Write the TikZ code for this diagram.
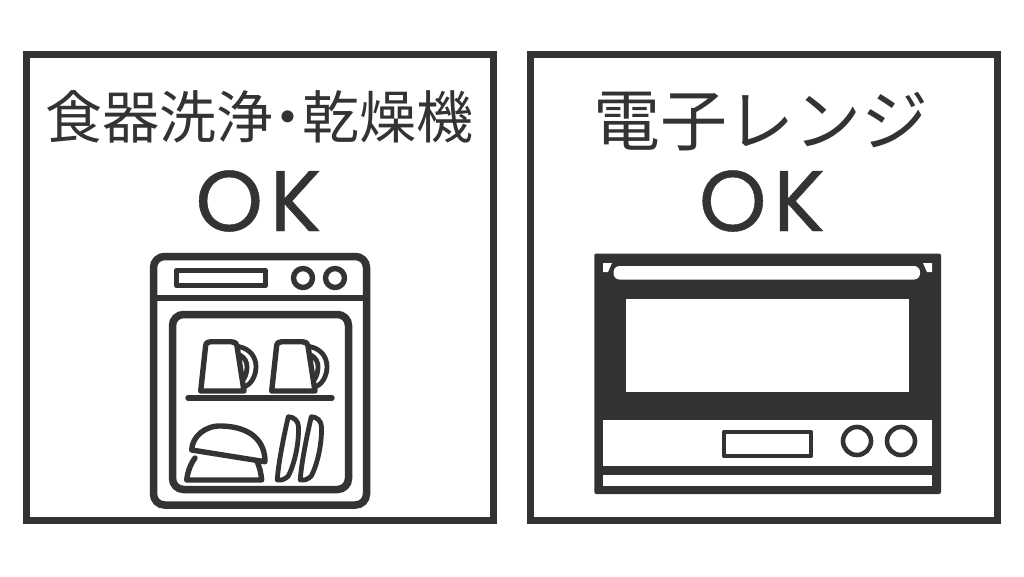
\documentclass[tikz,border=0pt]{standalone}
\usepackage{fontspec}
\newfontfamily\jpfont{Noto Sans CJK JP}
\newfontfamily\okfont[FakeBold=0.5]{Poppins}
\definecolor{ink}{HTML}{333333}
\tikzset{
  frame/.style={draw=ink,line width=7pt,fill=white},
  thick7/.style={draw=ink,line width=7.5pt,rounded corners=11pt},
  line5/.style={draw=ink,line width=5.4pt,line join=round,line cap=round},
  thin4/.style={draw=ink,line width=4.2pt,line join=round},
  hole/.style={fill=white,draw=none},
  title/.style={text=ink,inner sep=0pt,anchor=center},
  oklabel/.style={text=ink,inner sep=0pt,anchor=center,font=\okfont\fontsize{86}{86}\selectfont}
}
\begin{document}
\begin{tikzpicture}[x=1pt,y=-1pt]
\useasboundingbox (0,0) rectangle (1024,576);
\fill[white] (0,0) rectangle (1024,576);
% frames
\draw[frame] (26.5,54.5) rectangle (493.5,520.5);
\draw[frame] (530.5,54.5) rectangle (997.5,520.5);
% labels
\node[title] (t1) at (259,117) {\jpfont\fontsize{57}{57}\selectfont 食器洗浄\kern-14pt・\kern-14pt乾燥機};
\node[oklabel] (ok1) at (258.5,201) {O\kern7ptK};
\node[title] (t2) at (761,122) {\jpfont\fontsize{67}{67}\selectfont 電子レンジ};
\node[oklabel] (ok2) at (762,201) {O\kern7ptK};
% dishwasher
\draw[thick7] (153.5,256.5) rectangle (366.5,505);
\draw[draw=ink,line width=6.5pt] (153.5,298) -- (366.5,298);
\draw[line5,line cap=butt] (176.5,270.5) rectangle (265.5,285.5);
\draw[line5] (303,278) circle (9.5);
\draw[line5] (335,278) circle (9.5);
\draw[thick7] (172.5,314.5) rectangle (348.5,489.5);
\draw[line5] (188,398) -- (332,398);
\foreach \dx in {0,71}{
  \begin{scope}[xshift=\dx pt]
    \draw[line5] (200.7,391) -- (205.6,346) .. controls (206,342.5) and (208,341.7) .. (211,341.7) -- (231,341.7) .. controls (234,341.7) and (236,342.5) .. (237,346) -- (244,391) -- cycle;
    \draw[thin4,line width=4.8pt] (238.5,346.5) .. controls (251,349) and (256,358) .. (256,366.7) .. controls (256,376) and (251,385) .. (243.5,387);
    \draw[thin4,line width=4.8pt] (240,355) .. controls (245,358) and (247,362) .. (247,367) .. controls (247,372) and (245.5,378) .. (242,381);
  \end{scope}
}
% bowls
\draw[line5] (191.7,450) .. controls (192,437) and (205,425) .. (222,426) .. controls (252,427) and (265,442) .. (265,461.7) -- cycle;
\draw[line5] (195,458) .. controls (191,463) and (187.5,472) .. (186.7,480) -- (261.7,480) .. controls (261,473) and (259.5,467) .. (257,461);
% plates
\foreach \dx in {0,23}{
  \begin{scope}[xshift=\dx pt]
    \draw[thin4,line width=4.8pt] (288.3,416.7) .. controls (294,417) and (298.5,421) .. (298.5,427) .. controls (299,445) and (294,465) .. (288.3,476) .. controls (285,479.5) and (281,480.5) .. (277.3,480) .. controls (278,465) and (284,435) .. (288.3,416.7) -- cycle;
  \end{scope}
}
% microwave
\fill[ink,rounded corners=2pt] (594.3,253.5) rectangle (941,494);
\fill[hole] (603,263) -- (612,263) -- (608,272) -- (603,272) -- cycle;
\fill[hole] (932,263) -- (923,263) -- (927,272) -- (932,272) -- cycle;
\fill[hole,rounded corners=6pt] (613.5,266) rectangle (920,279.5);
\fill[hole] (626,299) rectangle (909,392);
\fill[hole] (603,419.5) rectangle (932,466);
\fill[hole] (603,475) rectangle (932,486);
\draw[thin4,line width=4.6pt] (724,432) rectangle (811,456);
\draw[thin4,line width=4.6pt] (857,441) circle (14);
\draw[thin4,line width=4.6pt] (901,441) circle (14);
\end{tikzpicture}
\end{document}
